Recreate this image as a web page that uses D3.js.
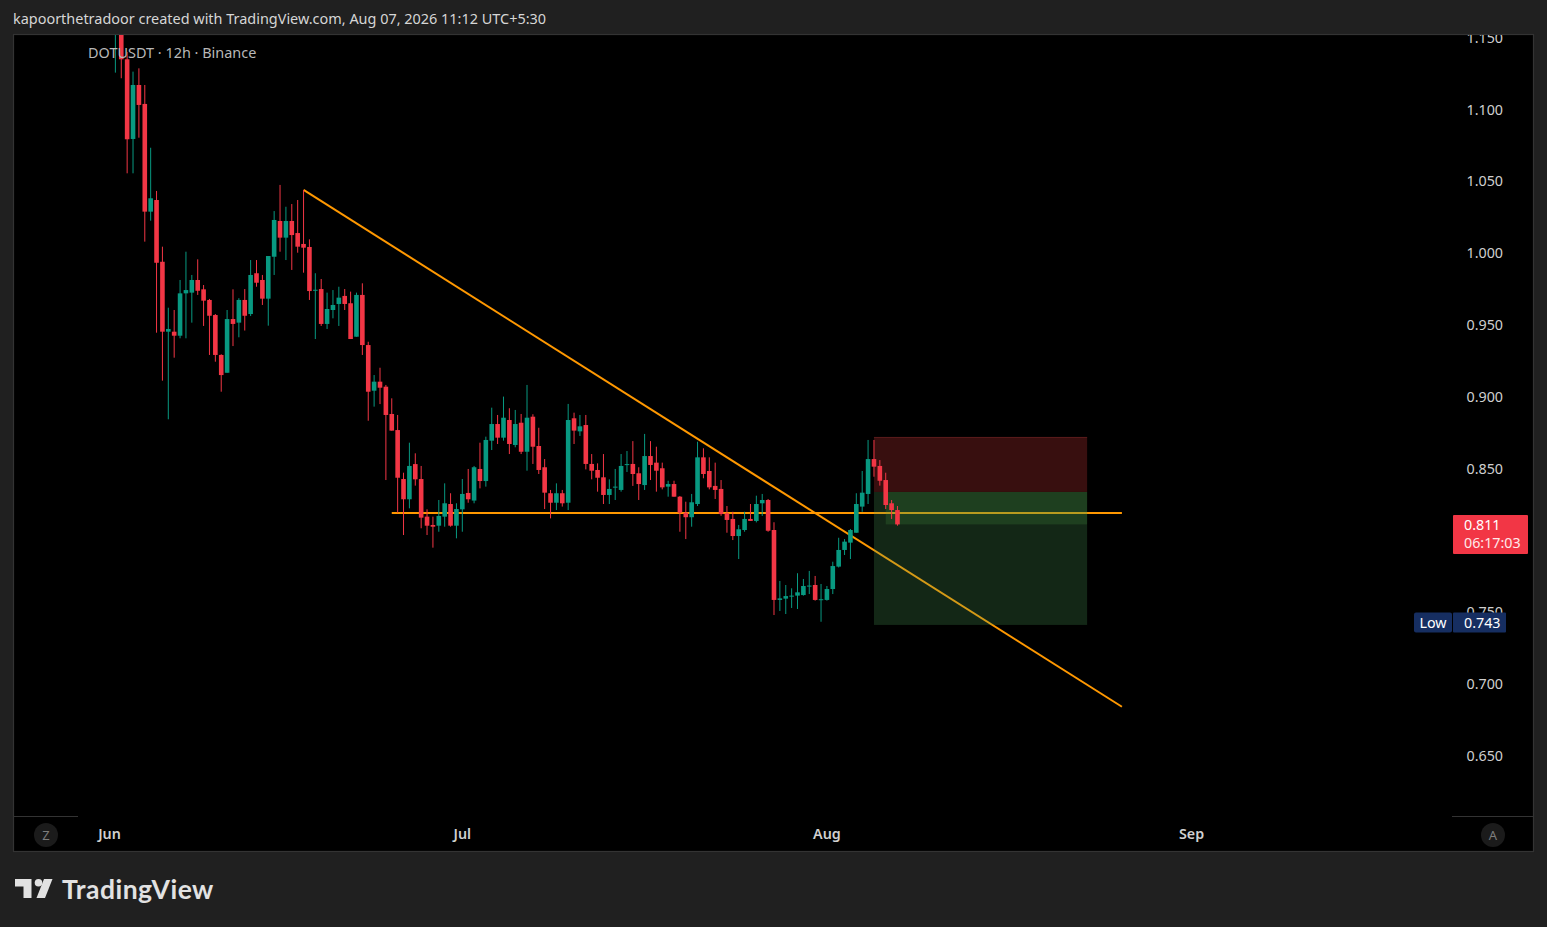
<!DOCTYPE html>
<html><head><meta charset="utf-8">
<script src="https://cdn.jsdelivr.net/npm/d3@7"></script>
<style>html,body{margin:0;padding:0;background:#202020;overflow:hidden}</style>
</head><body>
<svg id="c" width="1547" height="927"></svg>
<script>
// ---- DATA (12h candles, DOTUSDT) ----
const candleStart = "2026-06-01T12:00:00Z";
const opens  = [1.158,1.175,1.1349,1.0794,1.117,1.1038,1.0288,1.0369,0.9939,0.9452,0.9452,0.9424,0.9719,0.9724,0.9812,0.9747,0.9673,0.9568,0.929,0.9166,0.954,0.9515,0.9673,0.9575,0.9859,0.9812,0.9682,0.9974,1.0223,1.0107,1.0223,1.0139,1.0063,1.0042,0.9742,0.9749,0.9506,0.9603,0.9645,0.9701,0.965,0.9417,0.9708,0.9359,0.9041,0.9104,0.9069,0.8879,0.8767,0.8426,0.8285,0.853,0.8426,0.8164,0.8106,0.8101,0.8164,0.8252,0.8101,0.8215,0.8329,0.8276,0.8496,0.8412,0.8693,0.8809,0.8714,0.8837,0.8663,0.8818,0.8616,0.886,0.8656,0.8508,0.8327,0.8261,0.8327,0.8261,0.8849,0.8758,0.8802,0.8531,0.8489,0.8438,0.8315,0.8366,0.835,0.8524,0.8531,0.8466,0.8384,0.8586,0.854,0.8501,0.8373,0.8391,0.8303,0.8192,0.816,0.8252,0.8577,0.8482,0.8378,0.8357,0.8187,0.8148,0.8029,0.8071,0.8148,0.8134,0.8257,0.828,0.8071,0.7584,0.7593,0.7607,0.7614,0.7618,0.7679,0.7688,0.7584,0.7584,0.766,0.7816,0.7932,0.7983,0.8052,0.8234,0.8322,0.8565,0.8517,0.8419,0.8257,0.821];
const highs  = [1.19,1.18,1.14,1.1263,1.1286,1.117,1.0733,1.0432,1.0044,0.9619,0.9603,0.9812,1.0009,0.9847,0.9956,0.9777,0.968,0.9575,0.9295,0.9603,0.9747,0.9685,0.9749,0.9951,0.9951,0.9847,0.9979,1.0292,1.0474,1.0322,1.0341,1.0369,1.0439,1.0095,0.9859,0.9819,0.9724,0.9742,0.9765,0.9749,0.9731,0.9724,0.9789,0.9382,0.915,0.9201,0.9081,0.8988,0.8872,0.847,0.8679,0.8605,0.8517,0.8215,0.8164,0.828,0.8396,0.8327,0.8257,0.8426,0.8496,0.8517,0.8679,0.8721,0.8923,0.8872,0.9,0.8919,0.8907,0.8879,0.9081,0.8877,0.8783,0.8565,0.835,0.8396,0.835,0.8949,0.8888,0.8872,0.8872,0.86,0.8535,0.86,0.8424,0.8496,0.86,0.8621,0.869,0.8508,0.874,0.869,0.8651,0.854,0.8414,0.8414,0.8308,0.8268,0.8322,0.8686,0.864,0.8577,0.854,0.8419,0.8238,0.8198,0.8106,0.8198,0.8252,0.831,0.8322,0.8287,0.8125,0.7716,0.7688,0.7665,0.777,0.773,0.7786,0.7751,0.7695,0.7681,0.785,0.8017,0.8008,0.8078,0.8327,0.8482,0.8698,0.8698,0.8558,0.847,0.828,0.8238];
const lows   = [1.1256,1.1217,1.0555,1.0555,1.0803,1.0079,1.0225,0.9445,0.9111,0.8842,0.9271,0.9406,0.9406,0.9515,0.9708,0.9492,0.929,0.9243,0.9034,0.9166,0.9352,0.9413,0.946,0.9561,0.9765,0.9638,0.9494,0.9847,1.0009,0.9951,0.9882,1.0002,0.9863,0.9673,0.9401,0.9492,0.9471,0.9545,0.9492,0.9603,0.9401,0.9417,0.929,0.8832,0.893,0.8948,0.8419,0.8763,0.8192,0.8036,0.8222,0.838,0.8083,0.8036,0.7948,0.8059,0.8094,0.8094,0.8013,0.8059,0.8261,0.8257,0.8361,0.8373,0.8628,0.867,0.8693,0.86,0.8647,0.86,0.8484,0.8531,0.8461,0.8217,0.8152,0.821,0.8234,0.821,0.867,0.8726,0.8493,0.8424,0.8338,0.8252,0.8252,0.828,0.8338,0.8475,0.8378,0.828,0.835,0.8419,0.8338,0.8354,0.8303,0.8303,0.8059,0.8008,0.8094,0.8238,0.8431,0.8354,0.8287,0.817,0.8052,0.8001,0.7869,0.8059,0.8134,0.8124,0.8169,0.8059,0.7479,0.7507,0.7486,0.7528,0.7521,0.7614,0.7625,0.7579,0.7432,0.7579,0.7625,0.781,0.7897,0.7869,0.8052,0.8198,0.8252,0.8442,0.838,0.8217,0.8148,0.8101];
const closes = [1.175,1.1349,1.0792,1.117,1.1031,1.0288,1.0381,0.9932,0.9452,0.9471,0.9424,0.9719,0.9742,0.9812,0.9737,0.9668,0.9563,0.929,0.915,0.954,0.9506,0.9673,0.9563,0.9847,0.9793,0.9682,0.9979,1.023,1.0107,1.0223,1.0125,1.0044,1.0037,0.9735,0.9744,0.9506,0.961,0.9638,0.9689,0.9645,0.9401,0.9708,0.9359,0.9034,0.9104,0.9062,0.8872,0.8763,0.8435,0.8285,0.8517,0.8424,0.8157,0.8101,0.8094,0.8169,0.8257,0.8101,0.8217,0.8322,0.8285,0.8508,0.8412,0.8698,0.8809,0.8714,0.8853,0.867,0.8809,0.8616,0.8853,0.8651,0.8489,0.8331,0.8261,0.8327,0.8257,0.8837,0.8763,0.8793,0.8531,0.8484,0.8435,0.8315,0.8357,0.8373,0.8517,0.853,0.8461,0.8391,0.8586,0.8524,0.8484,0.8368,0.8391,0.8303,0.8192,0.816,0.8264,0.8577,0.8461,0.8368,0.835,0.8182,0.8141,0.8029,0.8076,0.8148,0.8134,0.8252,0.828,0.8066,0.7584,0.7595,0.7611,0.7614,0.7637,0.7681,0.7684,0.7584,0.7589,0.766,0.782,0.7932,0.799,0.8071,0.8252,0.8331,0.8565,0.8512,0.8414,0.8245,0.821,0.811];

// visible price-axis labels (0.800 is hidden behind the last-price tag in the reference)
const priceTicks = [1.150,1.100,1.050,1.000,0.950,0.900,0.850,0.750,0.700,0.650];
const monthLabels = ["Jun","Jul","Aug","Sep"];
const monthDates  = ["2026-06-01","2026-07-01","2026-08-01","2026-09-01"];

// drawings
const trendStart = {t:"2026-06-17T12:00:00Z", p:1.0439};
const trendEnd   = {t:"2026-08-26T02:00:00Z", p:0.684};
const hLine      = {t0:"2026-06-25T00:00:00Z", t1:"2026-08-26T02:00:00Z", p:0.8189};
const position   = {t0:"2026-08-05T00:00:00Z", t1:"2026-08-23T03:00:00Z", stop:0.8719, entry:0.8336, target:0.741, hiT0:"2026-08-06T00:00:00Z"};
const lastPrice = 0.811, lastCountdown = "06:17:03";
const lowPrice = 0.743;

// ---- RENDER ----
const svg=d3.select("#c");
const FONT="'Noto Sans', 'Open Sans', sans-serif";
const red="#F23645", green="#089981", orange="#FF9800";

const times = opens.map((_,i)=>d3.utcHour.offset(new Date(candleStart), 12*i));
const x = d3.scaleUtc().domain([new Date("2026-06-01T00:00:00Z"), new Date("2026-09-01T00:00:00Z")]).range([109.5,1191.5]);
const y = d3.scaleLinear().domain([0.6,1.2]).range([253+0.4*1436, 253-0.2*1436]);

const panel={x0:13,y0:34,x1:1534,y1:852};
const plotR=1452, plotB=816;

// header
svg.append("text").attr("x",13).attr("y",24).attr("fill","#d6d6d6").attr("font-family",FONT).attr("font-size",14.45)
  .text("kapoorthetradoor created with TradingView.com, Aug 07, 2026 11:12 UTC+5:30");

// panel
svg.append("rect").attr("x",panel.x0+0.5).attr("y",panel.y0+0.5).attr("width",panel.x1-panel.x0-1).attr("height",panel.y1-panel.y0-1)
  .attr("fill","#000").attr("stroke","#333").attr("stroke-width",1.2);

const defs=svg.append("defs");
defs.append("clipPath").attr("id","plot").append("rect").attr("x",panel.x0+1).attr("y",panel.y0+1).attr("width",plotR-panel.x0-1).attr("height",plotB-panel.y0-1);
defs.append("clipPath").attr("id","axis").append("rect").attr("x",plotR).attr("y",panel.y0+1).attr("width",panel.x1-plotR-1).attr("height",plotB-panel.y0-1);

const plot=svg.append("g").attr("clip-path","url(#plot)");

// lines
plot.append("line").attr("x1",x(new Date(trendStart.t))).attr("y1",y(trendStart.p)).attr("x2",x(new Date(trendEnd.t))).attr("y2",y(trendEnd.p))
  .attr("stroke",orange).attr("stroke-width",2);
plot.append("line").attr("x1",x(new Date(hLine.t0))).attr("x2",x(new Date(hLine.t1))).attr("y1",y(hLine.p)).attr("y2",y(hLine.p))
  .attr("stroke",orange).attr("stroke-width",2);

// position box
const bx0=x(new Date(position.t0)), bx1=x(new Date(position.t1));
plot.append("rect").attr("x",bx0).attr("width",bx1-bx0).attr("y",y(position.stop)).attr("height",y(position.entry)-y(position.stop))
  .attr("fill","rgb(230,62,62)").attr("fill-opacity",0.245);
plot.append("line").attr("x1",bx0).attr("x2",bx1).attr("y1",y(position.stop)+0.5).attr("y2",y(position.stop)+0.5).attr("stroke","#5a1c1c").attr("stroke-width",1);
plot.append("rect").attr("x",bx0).attr("width",bx1-bx0).attr("y",y(position.entry)).attr("height",y(position.target)-y(position.entry))
  .attr("fill","rgb(78,160,90)").attr("fill-opacity",0.245);
const hx0=x(new Date(position.hiT0));
plot.append("rect").attr("x",hx0).attr("width",bx1-hx0).attr("y",y(position.entry)).attr("height",y(lastPrice)-y(position.entry))
  .attr("fill","rgb(76,160,70)").attr("fill-opacity",0.2);

// candles
const bw=4.6;
const cg=plot.append("g");
times.forEach((t,i)=>{
  const cx=x(t), up=closes[i]>=opens[i], col=up?green:red;
  cg.append("line").attr("x1",cx).attr("x2",cx).attr("y1",y(highs[i])).attr("y2",y(lows[i])).attr("stroke",col).attr("stroke-width",1);
  const yt=y(Math.max(opens[i],closes[i])), yb=y(Math.min(opens[i],closes[i]));
  cg.append("rect").attr("x",cx-bw/2).attr("width",bw).attr("y",yt).attr("height",Math.max(1,yb-yt)).attr("fill",col);
});

// symbol label
svg.append("text").attr("x",88).attr("y",58).attr("fill","#b8b8b8").attr("font-family",FONT).attr("font-size",14.45)
  .text("DOTUSDT · 12h · Binance");

// price axis
const ax=svg.append("g").attr("clip-path","url(#axis)");
priceTicks.forEach(p=>{
  ax.append("text").attr("x",1503).attr("y",y(p)).attr("dy","0.36em").attr("text-anchor","end")
    .attr("fill","#cfcfcf").attr("font-family",FONT).attr("font-size",14.3).text(p.toFixed(3));
});

// last price label
const ly=y(lastPrice);
svg.append("rect").attr("x",1453).attr("y",ly-9.5).attr("width",75).attr("height",39).attr("fill",red).attr("rx",1);
svg.append("text").attr("x",1464).attr("y",ly).attr("dy","0.36em").attr("fill","#fff").attr("font-family",FONT).attr("font-size",14.3).text(lastPrice.toFixed(3));
svg.append("text").attr("x",1464).attr("y",ly+18.5).attr("dy","0.36em").attr("fill","#ffe9ea").attr("font-family",FONT).attr("font-size",14.3).text(lastCountdown);

// low label
const lwy=y(lowPrice);
svg.append("rect").attr("x",1414).attr("y",lwy-9.5).attr("width",38).attr("height",20).attr("fill","#162e61").attr("rx",2);
svg.append("rect").attr("x",1453).attr("y",lwy-9.5).attr("width",53).attr("height",20).attr("fill","#162e61").attr("rx",1);
svg.append("text").attr("x",1433).attr("y",lwy+0.5).attr("dy","0.36em").attr("text-anchor","middle").attr("fill","#fff").attr("font-family",FONT).attr("font-size",14.3).text("Low");
svg.append("text").attr("x",1464).attr("y",lwy+0.5).attr("dy","0.36em").attr("fill","#fff").attr("font-family",FONT).attr("font-size",14.3).text(lowPrice.toFixed(3));

// time axis
svg.append("line").attr("x1",panel.x0).attr("x2",78).attr("y1",plotB+0.5).attr("y2",plotB+0.5).attr("stroke","#333");
svg.append("line").attr("x1",plotR).attr("x2",panel.x1).attr("y1",plotB+0.5).attr("y2",plotB+0.5).attr("stroke","#333");
monthLabels.forEach((m,i)=>{
  svg.append("text").attr("x",x(new Date(monthDates[i]+"T00:00:00Z"))).attr("y",834).attr("dy","0.36em").attr("text-anchor","middle")
    .attr("fill","#d0d0d0").attr("font-family",FONT).attr("font-size",14.3).attr("font-weight",600).text(m);
});
[[46,835,"Z"],[1493,835,"A"]].forEach(([cx,cy,t])=>{
  svg.append("circle").attr("cx",cx).attr("cy",cy).attr("r",12).attr("fill","#1b1b1b");
  svg.append("text").attr("x",cx).attr("y",cy).attr("dy","0.36em").attr("text-anchor","middle").attr("fill","#7d7d7d").attr("font-family",FONT).attr("font-size",13).text(t);
});

// TradingView logo
const lg=svg.append("g").attr("fill","#e2e2e2");
lg.append("path").attr("d","M15,879 H31.5 V898 H23.5 V886.5 H15 Z");
lg.append("circle").attr("cx",38.5).attr("cy",882.8).attr("r",3.8);
lg.append("path").attr("d","M44,879 H52.5 L45,898 H36.5 Z");
svg.append("text").attr("x",62).attr("y",898.5).attr("fill","#e2e2e2").attr("font-family","Lato, 'Noto Sans', sans-serif").attr("font-weight",700).attr("font-size",26.5).attr("letter-spacing",0.5).text("TradingView");
</script>
</body></html>
